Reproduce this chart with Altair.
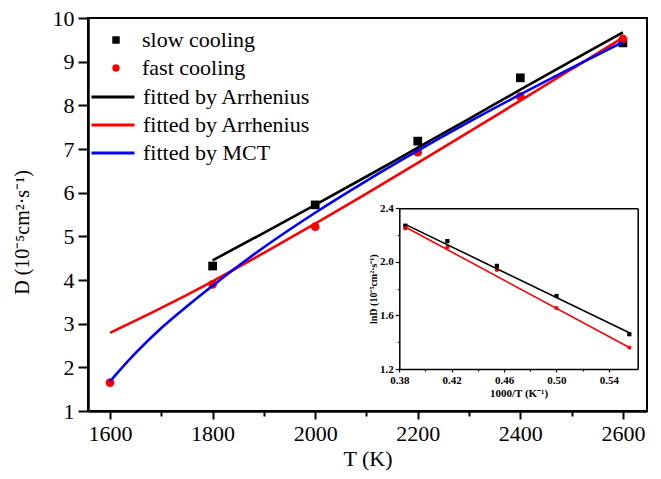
import altair as alt
import pandas as pd

# ---------------- main panel data ----------------
series_names = ["slow cooling", "fast cooling"]
T_slow = [1800, 2000, 2200, 2400, 2600]
D_slow = [4.32, 5.72, 7.18, 8.63, 9.43]
T_fast = [1600, 1800, 2000, 2200, 2400, 2600]
D_fast = [1.65, 3.90, 5.22, 6.93, 8.20, 9.52]

fit_names = ["Arrhenius (slow)", "Arrhenius (fast)", "MCT"]
T_fit_slow = [1800, 1900, 2000, 2100, 2200, 2300, 2400, 2500, 2600]
D_fit_slow = [4.45, 5.08, 5.72, 6.37, 7.03, 7.69, 8.36, 9.02, 9.67]
T_fit_fast = [1600, 1700, 1800, 1900, 2000, 2100, 2200, 2300, 2400, 2500, 2600]
D_fit_fast = [2.79, 3.36, 3.97, 4.62, 5.29, 5.98, 6.68, 7.39, 8.11, 8.83, 9.55]
T_mct = [1600, 1620, 1650, 1700, 1750, 1800, 1900, 2000, 2100, 2200, 2300, 2400, 2500, 2600]
D_mct = [1.68, 1.95, 2.33, 2.90, 3.40, 3.87, 4.75, 5.54, 6.27, 6.96, 7.62, 8.25, 8.86, 9.45]

x_ticks = [1600, 1700, 1800, 1900, 2000, 2100, 2200, 2300, 2400, 2500, 2600]
y_ticks = [1, 1.5, 2, 2.5, 3, 3.5, 4, 4.5, 5, 5.5, 6, 6.5, 7, 7.5, 8, 8.5, 9, 9.5, 10]

# ---------------- inset data ----------------
inv_T = [0.3846, 0.4167, 0.4545, 0.5000, 0.5556]
lnD_slow = [2.27, 2.155, 1.97, 1.745, 1.46]
lnD_fast = [2.25, 2.11, 1.94, 1.655, 1.36]
inv_line = [0.3846, 0.5556]
lnD_line_slow = [2.28, 1.47]
lnD_line_fast = [2.26, 1.36]
ix_ticks = [0.38, 0.40, 0.42, 0.44, 0.46, 0.48, 0.50, 0.52, 0.54]
iy_ticks = [1.2, 1.4, 1.6, 1.8, 2.0, 2.2, 2.4]

FONT = "Liberation Serif"

pts_df = pd.DataFrame(
    {"T": T_slow + T_fast, "D": D_slow + D_fast,
     "series": [series_names[0]] * len(T_slow) + [series_names[1]] * len(T_fast)}
)
fit_df = pd.DataFrame(
    {"T": T_fit_slow + T_fit_fast + T_mct, "D": D_fit_slow + D_fit_fast + D_mct,
     "fit": [fit_names[0]] * len(T_fit_slow) + [fit_names[1]] * len(T_fit_fast) + [fit_names[2]] * len(T_mct)}
)
ipts_df = pd.DataFrame(
    {"inv": inv_T + inv_T, "lnD": lnD_slow + lnD_fast,
     "series": [series_names[0]] * len(inv_T) + [series_names[1]] * len(inv_T)}
)
iline_df = pd.DataFrame(
    {"inv": inv_line + inv_line, "lnD": lnD_line_slow + lnD_line_fast,
     "series": [series_names[0]] * 2 + [series_names[1]] * 2}
)

xs = alt.Scale(domain=[1557, 2647], nice=False, zero=False)
ys = alt.Scale(domain=[1, 10], nice=False, zero=False)

x_axis = alt.Axis(
    orient="bottom", values=x_ticks, format="d",
    labelExpr="datum.value % 200 == 0 ? datum.label : ''",
    tickSize={"condition": {"test": "datum.value % 200 == 0", "value": 8}, "value": 5},
    tickWidth=2, tickColor="black", domainWidth=2.5, domainColor="black",
    labelFont=FONT, labelFontSize=22, labelColor="black", labelPadding=4,
    labelOverlap=False, labelFlush=False, grid=False,
    title="T (K)", titleFont=FONT, titleFontSize=22, titleFontWeight="normal",
    titleColor="black", titlePadding=4,
)
y_axis = alt.Axis(
    orient="left", values=y_ticks, format="d",
    labelExpr="datum.value % 1 == 0 ? datum.label : ''",
    tickSize={"condition": {"test": "datum.value % 1 == 0", "value": 10}, "value": 5},
    tickWidth=2, tickColor="black", domainWidth=2.5, domainColor="black",
    labelFont=FONT, labelFontSize=22, labelColor="black", labelPadding=4,
    labelOverlap=False, labelFlush=False, labelBound=False, grid=False,
    title="D (10⁻⁵cm²·s⁻¹)", titleFont=FONT, titleFontSize=20, titleFontWeight="normal",
    titleColor="black", titleX=-56, titleY=214,
)

pts_legend = alt.Legend(
    title=None, orient="none", legendX=17, legendY=11, padding=0,
    labelFont=FONT, labelFontSize=22, labelColor="black", labelOffset=15, labelLimit=0,
    symbolSize=55, rowPadding=6, symbolStrokeWidth=0,
)
fit_legend = alt.Legend(
    title=None, orient="none", legendX=14, legendY=68, padding=0,
    labelFont=FONT, labelFontSize=22, labelColor="black", labelOffset=19, labelLimit=0,
    symbolSize=296, symbolStrokeWidth=3, rowPadding=6, symbolType="M-2.5,0H2.5",
    labelExpr="'fitted by ' + split(datum.label, ' ')[0]",
)

pts = alt.Chart(pts_df).mark_point(filled=True, size=76, opacity=1).encode(
    x=alt.X("T:Q", scale=xs, axis=x_axis),
    y=alt.Y("D:Q", scale=ys, axis=y_axis),
    color=alt.Color("series:N", scale=alt.Scale(domain=series_names, range=["black", "red"]), legend=pts_legend),
    shape=alt.Shape("series:N", scale=alt.Scale(domain=series_names, range=["square", "circle"]), legend=pts_legend),
)
fits = alt.Chart(fit_df).mark_line(strokeWidth=2.6, interpolate="monotone").encode(
    x=alt.X("T:Q", scale=xs, axis=x_axis),
    y=alt.Y("D:Q", scale=ys, axis=y_axis),
    color=alt.Color("fit:N", scale=alt.Scale(domain=fit_names, range=["black", "red", "blue"]), legend=fit_legend),
)
main = alt.layer(pts, fits).resolve_scale(color="independent", shape="independent")

# ---------------- inset ----------------
ixs = alt.Scale(domain=[0.38, 0.562], range=[311.3, 549.7], nice=False, zero=False)
iys = alt.Scale(domain=[1.2, 2.4], range=[351, 190.3], nice=False, zero=False)

ix_axis = alt.Axis(
    orient="bottom", offset=-42, values=ix_ticks, format=".2f",
    labelExpr="round(datum.value * 100) % 4 == 2 ? datum.label : ''",
    tickSize={"condition": {"test": "round(datum.value * 100) % 4 == 2", "value": 3}, "value": 2},
    tickWidth=1.2, tickColor="black", domainWidth=1.5, domainColor="black",
    labelFont=FONT, labelFontSize=11, labelFontWeight="bold", labelColor="black", labelPadding=2,
    labelOverlap=False, labelFlush=False, grid=False,
    title="1000/T (K⁻¹)", titleFont=FONT, titleFontSize=11, titleFontWeight="bold",
    titleColor="black", titlePadding=2,
)
iy_axis = alt.Axis(
    orient="left", offset=-311.3, values=iy_ticks, format=".1f",
    labelExpr="round(datum.value * 10) % 4 == 0 ? datum.label : ''",
    tickSize={"condition": {"test": "round(datum.value * 10) % 4 == 0", "value": 4}, "value": 2},
    tickWidth=1.2, tickColor="black", domainWidth=1.5, domainColor="black",
    labelFont=FONT, labelFontSize=11, labelFontWeight="bold", labelColor="black", labelPadding=2,
    labelOverlap=False, labelFlush=False, grid=False,
    title="lnD (10⁻⁵cm²·s⁻¹)", titleFont=FONT, titleFontSize=10, titleFontWeight="bold",
    titleColor="black", titlePadding=1,
)
ix_top = alt.Axis(orient="top", offset=-190.3, labels=False, ticks=False, title=None,
                  domainWidth=1.5, domainColor="black", grid=False)
iy_right = alt.Axis(orient="right", offset=-9.3, labels=False, ticks=False, title=None,
                    domainWidth=1.5, domainColor="black", grid=False)

icol = alt.Scale(domain=series_names, range=["black", "red"])
ipts = alt.Chart(ipts_df).mark_point(filled=True, size=18, opacity=1).encode(
    x=alt.X("inv:Q", scale=ixs, axis=ix_axis),
    y=alt.Y("lnD:Q", scale=iys, axis=iy_axis),
    color=alt.Color("series:N", scale=icol, legend=None),
    shape=alt.Shape("series:N", scale=alt.Scale(domain=series_names, range=["square", "circle"]), legend=None),
)
ilines = alt.Chart(iline_df).mark_line(strokeWidth=1.6).encode(
    x=alt.X("inv:Q", scale=ixs, axis=ix_top),
    y=alt.Y("lnD:Q", scale=iys, axis=iy_right),
    color=alt.Color("series:N", scale=icol, legend=None),
)
inset = alt.layer(ipts, ilines).resolve_axis(x="independent", y="independent")

chart = alt.layer(main, inset).resolve_scale(
    x="independent", y="independent", color="independent", shape="independent"
).properties(
    width=559, height=393,
    autosize=alt.AutoSizeParams(type="none"),
    padding={"left": 80, "top": 10, "right": 6, "bottom": 60},
).configure_view(stroke="black", strokeWidth=2)

chart.save("out.html", embed_options={"renderer": "svg", "actions": False})
